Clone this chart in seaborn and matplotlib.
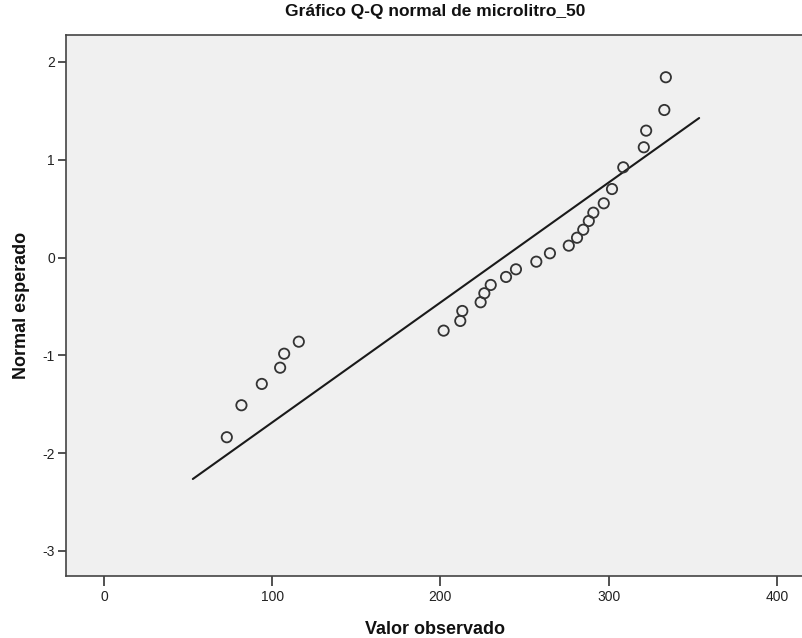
import matplotlib
matplotlib.use("Agg")
import matplotlib.pyplot as plt
import seaborn as sns
import pandas as pd

observed = [73.0, 81.7, 93.8, 104.7, 107.1, 115.8, 201.9, 211.8, 213.0, 223.9,
            226.1, 229.9, 239.0, 244.9, 257.0, 265.1, 276.3, 281.2, 284.9, 288.2,
            290.9, 297.1, 302.0, 308.7, 320.9, 322.3, 333.1, 334.0]
expected = [-1.837, -1.510, -1.292, -1.126, -0.983, -0.860, -0.747, -0.648, -0.546, -0.457,
            -0.365, -0.280, -0.198, -0.120, -0.042, 0.044, 0.122, 0.203, 0.285, 0.374,
            0.459, 0.555, 0.701, 0.923, 1.128, 1.298, 1.509, 1.844]

# Reference line endpoints
line_x = [52.8, 353.8]
line_y = [-2.264, 1.427]

x_ticks = [0, 100, 200, 300, 400]
y_ticks = [-3, -2, -1, 0, 1, 2]

title = "Gráfico Q-Q normal de microlitro_50"
xlabel = "Valor observado"
ylabel = "Normal esperado"

sns.set_style("white")
plt.rcParams['font.family'] = ['Liberation Sans', 'DejaVu Sans']

fig = plt.figure(figsize=(8.03, 6.38), dpi=100)
ax = fig.add_axes([66 / 803, 1 - 576 / 638, 1 - 66 / 803 + 0.002, (576 - 35) / 638])
ax.set_facecolor("#F0F0F0")

df_pts = pd.DataFrame({"obs": observed, "exp": expected})
df_line = pd.DataFrame({"x": line_x, "y": line_y})

sns.lineplot(data=df_line, x="x", y="y", ax=ax, color="#1a1a1a", linewidth=1.5, zorder=2)
sns.scatterplot(data=df_pts, x="obs", y="exp", ax=ax, s=55, facecolors="none",
                edgecolor="#333333", linewidth=1.3, zorder=3)

ax.set_xlim(-22.6, 416.5)
ax.set_ylim(-3.256, 2.276)
ax.set_xticks(x_ticks)
ax.set_yticks(y_ticks)
ax.set_xticklabels([str(t) for t in x_ticks], fontsize=10, color="#222222")
ax.set_yticklabels([str(t) for t in y_ticks], fontsize=10, color="#222222")
ax.tick_params(axis="x", which="major", bottom=True, direction="out", length=7, width=1.2,
               color="#333333", pad=3)
ax.tick_params(axis="y", which="major", left=True, direction="out", length=6, width=1.2,
               color="#333333", pad=2)

for side in ["left", "bottom", "top"]:
    ax.spines[side].set_visible(True)
    ax.spines[side].set_color("#444444")
    ax.spines[side].set_linewidth(1.2)
ax.spines["right"].set_visible(False)

ax.set_xlabel(xlabel, fontsize=13, fontweight="bold", labelpad=12, color="#111111")
ax.set_ylabel(ylabel, fontsize=13, fontweight="bold", labelpad=9, color="#111111")
ax.set_title(title, fontsize=12.5, fontweight="bold", pad=14, color="#111111")

fig.savefig("out.png", dpi=100, facecolor="white")
